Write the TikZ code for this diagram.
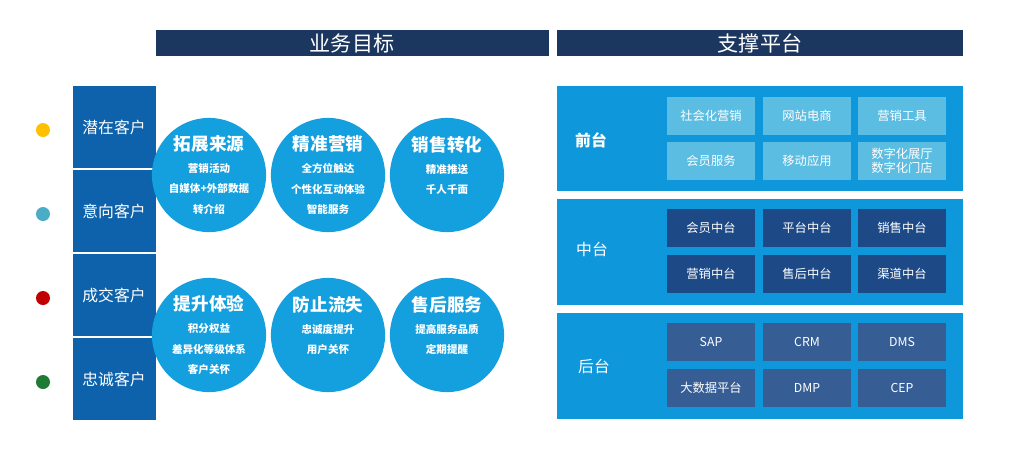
\documentclass[tikz,border=0pt]{standalone}
\usepackage{fontspec}
\setmainfont{Noto Sans CJK SC}
\definecolor{navy}{HTML}{1B365F}
\definecolor{custblue}{HTML}{0D62AB}
\definecolor{circblue}{HTML}{149FDE}
\definecolor{panelblue}{HTML}{0E97DB}
\definecolor{frontbox}{HTML}{5CBDE2}
\definecolor{midbox}{HTML}{1D4A86}
\definecolor{backbox}{HTML}{365E95}
\tikzset{
  header/.style={fill=navy, text=white, font=\fontsize{12}{13}\selectfont, inner sep=0pt},
  custbox/.style={fill=custblue, text=white, font=\fontsize{9}{10}\selectfont, inner sep=0pt},
  goal/.style={circle, fill=circblue, text=white, minimum size=65pt, inner sep=0pt, align=center, font=\fontsize{6}{11.5}\selectfont\bfseries},
  panel/.style={fill=panelblue, inner sep=0pt},
  frontitem/.style={fill=frontbox, text=white, minimum width=50pt, minimum height=21.5pt, inner sep=0pt, align=center, font=\fontsize{7}{8}\selectfont},
  miditem/.style={frontitem, fill=midbox},
  backitem/.style={frontitem, fill=backbox},
  tier/.style={text=white, font=\fontsize{9}{10}\selectfont}
}
\newcommand{\goaltext}[1]{{\fontsize{10}{16}\selectfont #1}\\[1pt]}
\begin{document}
\begin{tikzpicture}[x=0.02cm, y=-0.02cm]
\useasboundingbox (0,0) rectangle (1024,458);
% headers
\fill[navy] (156,30) rectangle (549,56);
\node[header] (goals) at (352,43) {业务目标};
\fill[navy] (557,30) rectangle (963,56);
\node[header] (platform) at (760,43) {支撑平台};
% customers
\foreach \y/\lbl/\col [count=\i] in {86/潜在客户/FFC000, 170/意向客户/4BACC6, 254/成交客户/C00000, 338/忠诚客户/1E7B34}{
  \definecolor{dotcol}{HTML}{\col}
  \fill[custblue] (73,\y) rectangle (156,\y+82);
  \node[custbox] (cust\i) at (114,\y+41) {\lbl};
  \fill[dotcol] (43,\y+44) circle (7);
}
% goals
\node[goal] (expand) at (209,175) {\goaltext{拓展来源}营销活动\\自媒体+外部数据\\转介绍};
\node[goal] (precise) at (328,175) {\goaltext{精准营销}全方位触达\\个性化互动体验\\智能服务};
\node[goal] (convert) at (447,175) {\goaltext{销售转化}精准推送\\千人千面\\\mbox{}};
\node[goal] (improve) at (209,335) {\goaltext{提升体验}积分权益\\差异化等级体系\\客户关怀};
\node[goal] (retain) at (328,335) {\goaltext{防止流失}忠诚度提升\\用户关怀\\\mbox{}};
\node[goal] (after) at (447,335) {\goaltext{售后服务}提高服务品质\\定期提醒\\\mbox{}};
% platform tiers
\fill[panelblue] (557,86) rectangle (963,191);
\fill[panelblue] (557,199) rectangle (963,305);
\fill[panelblue] (557,313) rectangle (963,419);
\node[tier, font=\fontsize{9}{10}\selectfont\bfseries] (front) at (591,140) {前台};
\node[tier] (middle) at (592,249) {中台};
\node[tier] (back) at (594,366) {后台};
\node[frontitem] (f1) at (711,116) {社会化营销};
\node[frontitem] (f2) at (807,116) {网站电商};
\node[frontitem] (f3) at (902,116) {营销工具};
\node[frontitem] (f4) at (711,161) {会员服务};
\node[frontitem] (f5) at (807,161) {移动应用};
\node[frontitem] (f6) at (902,161) {数字化展厅\\数字化门店};
\node[miditem] (m1) at (711,228) {会员中台};
\node[miditem] (m2) at (807,228) {平台中台};
\node[miditem] (m3) at (902,228) {销售中台};
\node[miditem] (m4) at (711,274) {营销中台};
\node[miditem] (m5) at (807,274) {售后中台};
\node[miditem] (m6) at (902,274) {渠道中台};
\node[backitem] (b1) at (711,342) {SAP};
\node[backitem] (b2) at (807,342) {CRM};
\node[backitem] (b3) at (902,342) {DMS};
\node[backitem] (b4) at (711,388) {大数据平台};
\node[backitem] (b5) at (807,388) {DMP};
\node[backitem] (b6) at (902,388) {CEP};
\end{tikzpicture}
\end{document}
